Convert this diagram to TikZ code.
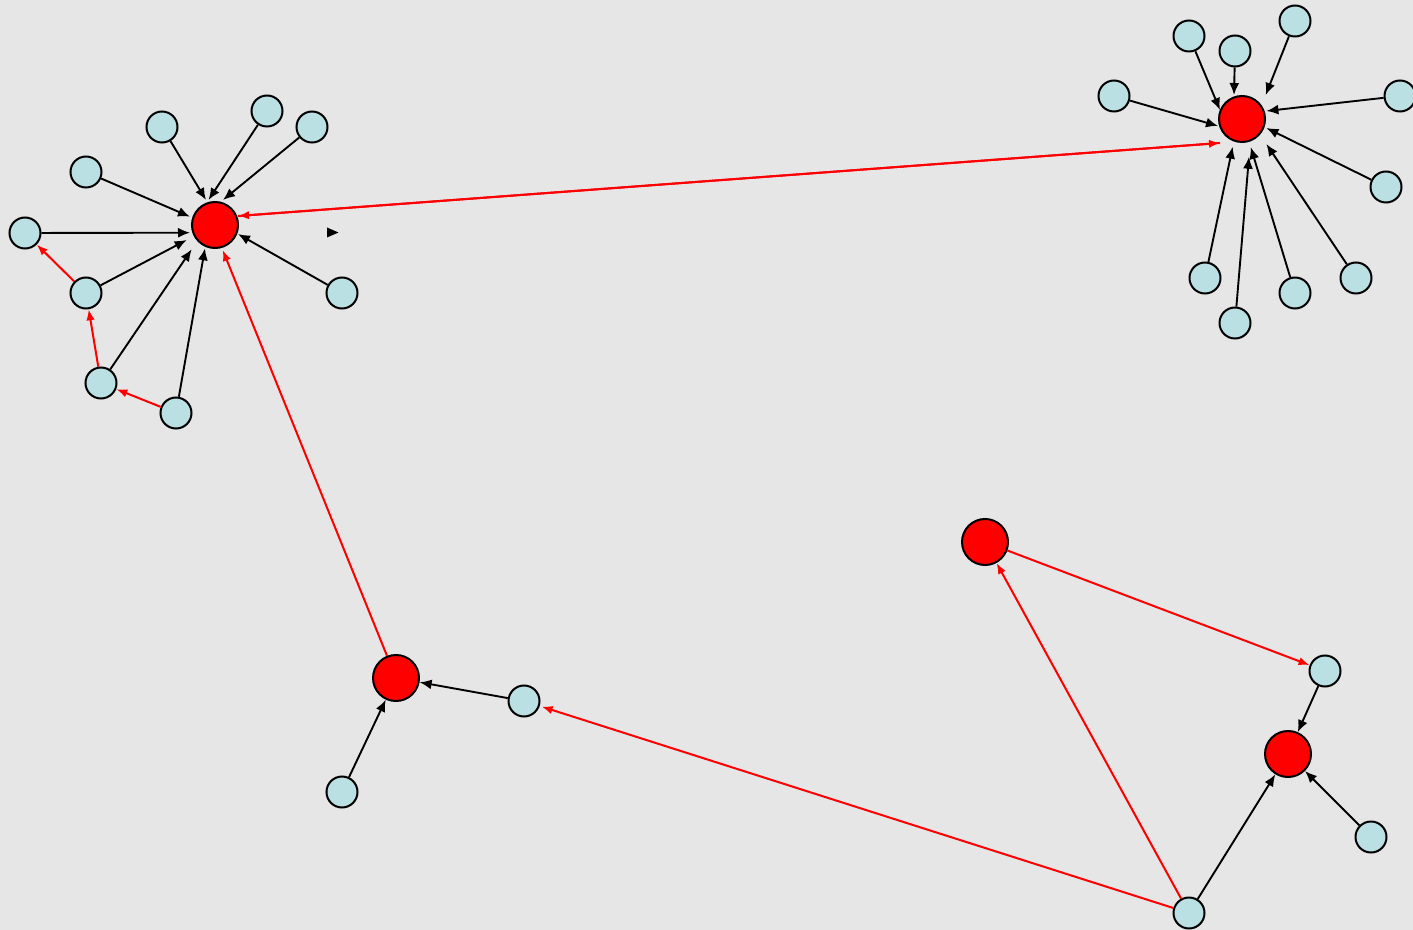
\documentclass[tikz,border=0pt]{standalone}
\usetikzlibrary{arrows.meta,calc}
\definecolor{bg}{HTML}{E6E6E6}
\definecolor{leaf}{HTML}{BAE0E3}
\begin{document}
\begin{tikzpicture}[x=0.5pt,y=-0.5pt,
  leafnode/.style={circle,draw=black,line width=1pt,fill=leaf,minimum size=15.5pt,inner sep=0pt},
  hubnode/.style={circle,draw=black,line width=1pt,fill=red,minimum size=23pt,inner sep=0pt},
  blk/.style={draw=black,line width=0.95pt,-{Latex[length=6pt,width=5pt]}},
  redge/.style={draw=red,line width=1pt,-{Latex[length=5.5pt,width=4.2pt]}}]
\fill[bg] (0,0) rectangle (1413,930);
\useasboundingbox (0,0) rectangle (1413,930);
% hubs
\node[hubnode] (H1) at (215,225) {};
\node[hubnode] (H2) at (1242,119) {};
\node[hubnode] (H3) at (396,678) {};
\node[hubnode] (H4) at (985,542) {};
\node[hubnode] (H5) at (1288,754) {};
% left cluster
\node[leafnode] (a1) at (162,127) {};
\node[leafnode] (a2) at (267,111) {};
\node[leafnode] (a3) at (312,127) {};
\node[leafnode] (a4) at (86,172) {};
\node[leafnode] (a5) at (25,233) {};
\node[leafnode] (a6) at (86,293) {};
\node[leafnode] (a7) at (101,383) {};
\node[leafnode] (a8) at (176,413) {};
\node[leafnode] (a9) at (342,293) {};
% right cluster
\node[leafnode] (b1) at (1189,36) {};
\node[leafnode] (b2) at (1235,51) {};
\node[leafnode] (b3) at (1295,21) {};
\node[leafnode] (b4) at (1114,96) {};
\node[leafnode] (b5) at (1400,96) {};
\node[leafnode] (b6) at (1386,187) {};
\node[leafnode] (b7) at (1205,278) {};
\node[leafnode] (b8) at (1235,323) {};
\node[leafnode] (b9) at (1295,293) {};
\node[leafnode] (b10) at (1356,278) {};
% middle
\node[leafnode] (c1) at (524,701) {};
\node[leafnode] (c2) at (342,792) {};
% bottom right
\node[leafnode] (d1) at (1325,671) {};
\node[leafnode] (d2) at (1371,837) {};
\node[leafnode] (d3) at (1189,913) {};
% stray arrowhead
\coordinate (s1) at (327,227.5);
\coordinate (s2) at (338.5,232.5);
\coordinate (s3) at (327,237.5);
\fill[black] (s1) -- (s2) -- (s3) -- cycle;
% left edges
\draw[blk] (a1) -- ($(H1)+(-9,-25)$);
\draw[blk] (a2) -- ($(H1)+(-6.5,-25)$);
\draw[blk] (a3) -- ($(H1)+(8,-25)$);
\draw[blk] (a4) -- ($(H1)+(-25,-8.3)$);
\draw[blk] (a5) -- ($(H1)+(-25,7.7)$);
\draw[blk] (a6) -- ($(H1)+(-28.3,15)$);
\draw[blk] (a7) -- ($(H1)+(-23.3,24.3)$);
\draw[blk] (a8) -- ($(H1)+(-10,23.3)$);
\draw[blk] (a9) -- ($(H1)+(23,9)$);
\draw[redge] (a6) -- (a5);
\draw[redge] (a7) -- (a6);
\draw[redge] (a8) -- (a7);
% right edges
\draw[blk] (b1) -- ($(H2)+(-22,-9)$);
\draw[blk] (b2) -- ($(H2)+(-8,-24)$);
\draw[blk] (b3) -- ($(H2)+(23.7,-24)$);
\draw[blk] (b4) -- ($(H2)+(-24,7)$);
\draw[blk] (b5) -- ($(H2)+(24.4,-8)$);
\draw[blk] (b6) -- ($(H2)+(24.4,9)$);
\draw[blk] (b7) -- ($(H2)+(-9.3,27.7)$);
\draw[blk] (b8) -- ($(H2)+(7,37.7)$);
\draw[blk] (b9) -- ($(H2)+(8.7,28)$);
\draw[blk] (b10) -- ($(H2)+(24.4,25)$);
% long red edges
\coordinate (p1) at ($(H1)+(23,-9)$);
\coordinate (p2) at ($(H2)+(-22,24)$);
\draw[redge] (p2) -- (p1);
\draw[redge] (p1) -- (p2);
\draw[redge] (H3) -- ($(H1)+(7.7,25)$);
% middle
\draw[blk] (c1) -- (H3);
\draw[blk] (c2) -- (H3);
% bottom right
\draw[redge] (H4) -- (d1);
\draw[blk] (d1) -- (H5);
\draw[blk] (d2) -- (H5);
\draw[blk] (d3) -- (H5);
\draw[redge] (d3) -- (H4);
\draw[redge,shorten >=1pt] (d3) -- (c1);
\end{tikzpicture}
\end{document}
